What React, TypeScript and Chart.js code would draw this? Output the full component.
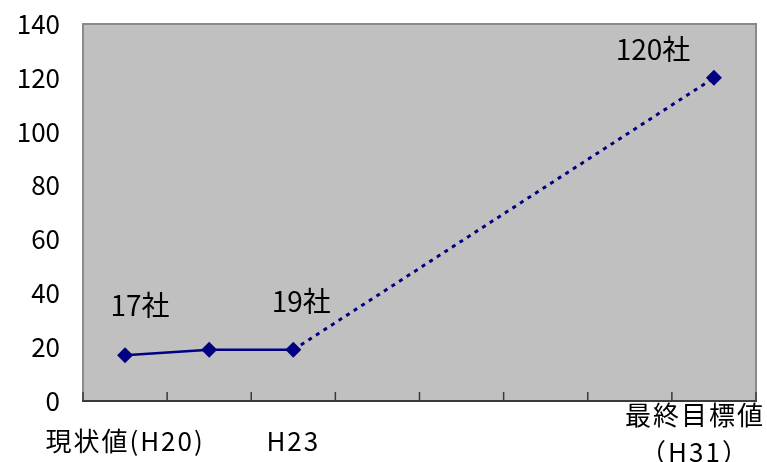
import React, { useEffect, useRef } from "react";
import { Chart, registerables } from "chart.js";

Chart.register(...registerables);

const categories: (string | string[])[] = [
  "現状値(H20)",
  "",
  "H23",
  "",
  "",
  "",
  "",
  ["最終目標値", "（H31）"],
];
const companyCounts: (number | null)[] = [17, 19, 19, null, null, null, null, 120];
const pointLabels: string[] = ["17社", "", "19社", "", "", "", "", "120社"];
const yTickMin = 0;
const yTickMax = 140;
const yTickStep = 20;

const FONT = '"Noto Sans CJK JP", "Noto Sans", sans-serif';

const plotPlugin = {
  id: "plotDecor",
  beforeDraw(chart: any) {
    const { ctx, chartArea } = chart;
    ctx.save();
    ctx.fillStyle = "#c0c0c0";
    ctx.fillRect(chartArea.left, chartArea.top, chartArea.right - chartArea.left, chartArea.bottom - chartArea.top);
    ctx.restore();
  },
  afterDraw(chart: any) {
    const { ctx, chartArea, scales } = chart;
    const xs = scales.x;
    ctx.save();
    ctx.strokeStyle = "#8a8a8a";
    ctx.lineWidth = 2;
    ctx.strokeRect(chartArea.left, chartArea.top, chartArea.right - chartArea.left, chartArea.bottom - chartArea.top);
    ctx.strokeStyle = "#3a3a3a";
    ctx.lineWidth = 2;
    ctx.beginPath();
    ctx.moveTo(chartArea.left - 1, chartArea.bottom);
    ctx.lineTo(chartArea.right + 1, chartArea.bottom);
    ctx.stroke();
    const n = categories.length;
    const step = xs.getPixelForValue(1) - xs.getPixelForValue(0);
    ctx.lineWidth = 1.5;
    for (let i = 0; i <= n; i++) {
      const x = xs.getPixelForValue(0) - step / 2 + i * step;
      ctx.beginPath();
      ctx.moveTo(x, chartArea.bottom);
      ctx.lineTo(x, chartArea.bottom - 9);
      ctx.stroke();
    }
    ctx.fillStyle = "#000";
    ctx.font = `26px ${FONT}`;
    (ctx as any).letterSpacing = "2px";
    ctx.textAlign = "center";
    ctx.textBaseline = "middle";
    const W = chart.width;
    categories.forEach((lab, i) => {
      if (!lab || (Array.isArray(lab) && lab.length === 0)) return;
      const lines = Array.isArray(lab) ? lab : [lab];
      const maxW = Math.max(...lines.map((l) => ctx.measureText(l).width));
      let cx = xs.getPixelForValue(i);
      if (cx + maxW / 2 > W - 2) cx = W - 2 - maxW / 2;
      if (lines.length === 1) {
        ctx.fillText(lines[0], cx, chartArea.bottom + 40);
      } else {
        lines.forEach((l, k) => ctx.fillText(l, cx, chartArea.bottom + 14 + k * 37));
      }
    });
    ctx.restore();
  },
};

const labelPlugin = {
  id: "pointLabels",
  afterDatasetsDraw(chart: any, _args: any, opts: any) {
    const { ctx } = chart;
    const meta = chart.getDatasetMeta(0);
    ctx.save();
    ctx.fillStyle = "#000";
    ctx.font = `28px ${FONT}`;
    ctx.textAlign = "center";
    ctx.textBaseline = "middle";
    pointLabels.forEach((t, i) => {
      if (!t) return;
      const el = meta.data[i];
      const off = (opts.offsets && opts.offsets[i]) || [0, -30];
      ctx.fillText(t, el.x + off[0], el.y + off[1]);
    });
    ctx.restore();
  },
};

export default function App() {
  const ref = useRef<HTMLCanvasElement | null>(null);
  useEffect(() => {
    document.body.style.margin = "0";
    if (!ref.current) return;
    const chart = new Chart(ref.current, {
      type: "line",
      data: {
        labels: categories as any,
        datasets: [
          {
            data: companyCounts,
            borderColor: "#000080",
            backgroundColor: "#000080",
            borderWidth: 2.5,
            pointStyle: "rectRot",
            pointRadius: 8,
            pointHoverRadius: 8,
            pointBackgroundColor: "#000080",
            pointBorderColor: "#000080",
            pointBorderWidth: 0,
            spanGaps: true,
            tension: 0,
            segment: {
              borderDash: (c: any) => (c.p0DataIndex >= 2 ? [4, 5] : undefined),
              borderWidth: (c: any) => (c.p0DataIndex >= 2 ? 3 : 2.5),
            },
          } as any,
        ],
      },
      options: {
        animation: false,
        responsive: false,
        maintainAspectRatio: false,
        layout: { padding: { top: 24, right: 11, left: 0, bottom: 0 } },
        plugins: {
          legend: { display: false },
          tooltip: { enabled: false },
          pointLabels: { offsets: { 0: [15, -50], 2: [8, -48], 7: [-61, -28] } },
        } as any,
        scales: {
          x: {
            offset: true,
            grid: { display: false, drawTicks: false },
            border: { display: false },
            ticks: { display: false },
            afterFit: (s: any) => {
              s.height = 61;
              s.paddingLeft = 0;
              s.paddingRight = 0;
            },
          },
          y: {
            min: yTickMin,
            max: yTickMax,
            ticks: {
              stepSize: yTickStep,
              color: "#000",
              padding: 23,
              font: { family: FONT, size: 26 },
            },
            grid: { display: false, drawTicks: false },
            border: { display: false },
            afterFit: (s: any) => {
              s.width = 83;
              s.paddingTop = 0;
              s.paddingBottom = 0;
            },
          },
        },
      },
      plugins: [plotPlugin, labelPlugin],
    });
    return () => chart.destroy();
  }, []);
  return (
    <div style={{ width: 767, height: 462 }}>
      <canvas ref={ref} width={767} height={462} style={{ width: 767, height: 462, display: "block" }} />
    </div>
  );
}
